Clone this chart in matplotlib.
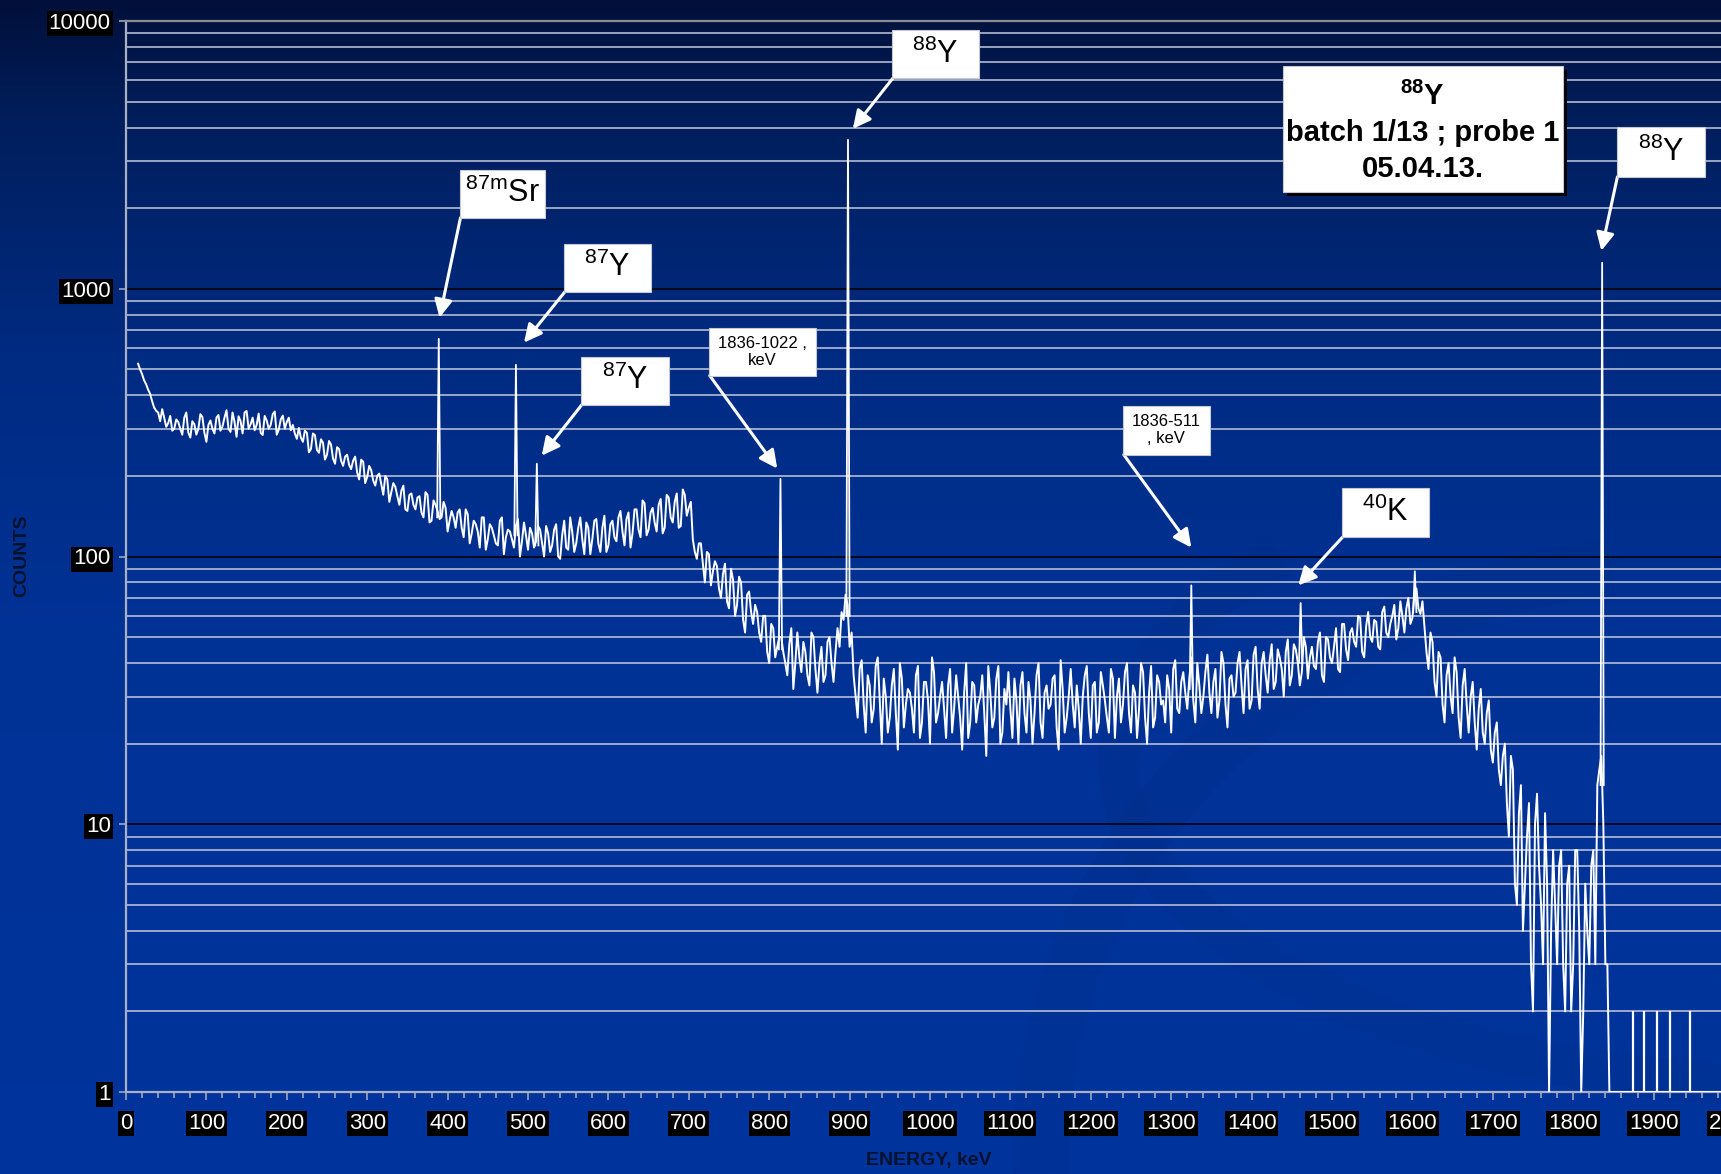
import numpy as np
import matplotlib
matplotlib.use("Agg")
import matplotlib.pyplot as plt
from matplotlib.patches import Rectangle, Arc
from matplotlib.ticker import LogLocator, MultipleLocator, NullFormatter
import matplotlib.patheffects as pe

plt.rcParams['font.family'] = ['Liberation Sans', 'DejaVu Sans']
plt.rcParams['mathtext.default'] = 'regular'

# Spectrum counts.
# counts_rows: one value every 5 keV starting at 15 keV
# counts_mid_rows: the channels in between (17.5 keV, 22.5 keV, ...)
counts_rows = [
    [525, 480, 440, 405, 360, 345, 355, 305, 335, 300, 318, 285, 345, 278, 312, 300, 332, 268, 322, 288],
    [338, 306, 352, 292, 318, 334, 288, 350, 312, 296, 342, 284, 322, 310, 348, 298, 336, 318, 296, 288],
    [302, 268, 290, 252, 284, 244, 266, 240, 262, 222, 252, 218, 240, 212, 236, 194, 226, 198, 210, 184],
    [204, 170, 194, 174, 182, 156, 184, 148, 172, 150, 168, 140, 170, 136, 156, 138, 160, 124, 148, 128],
    [150, 118, 144, 122, 132, 108, 140, 116, 128, 112, 136, 102, 126, 116, 130, 100, 134, 106, 122, 114],
    [126, 100, 122, 110, 132, 98, 136, 106, 124, 112, 140, 102, 128, 116, 138, 104, 142, 110, 136, 114],
    [148, 110, 146, 122, 150, 118, 158, 126, 152, 124, 164, 128, 166, 134, 172, 130, 170, 152, 116, 98],
    [112, 80, 102, 88, 92, 70, 94, 64, 82, 66, 80, 52, 74, 56, 62, 48, 60, 40, 54, 46],
    [50, 40, 47, 32, 52, 37, 44, 33, 50, 31, 46, 36, 50, 34, 54, 62, 72, 46, 36, 25],
    [41, 22, 33, 27, 42, 20, 30, 25, 38, 19, 35, 28, 31, 22, 39, 24, 34, 20, 37, 26],
    [34, 21, 38, 27, 30, 19, 40, 24, 33, 28, 36, 18, 31, 25, 39, 22, 28, 27, 35, 20],
    [37, 22, 29, 26, 40, 21, 33, 28, 36, 19, 32, 25, 38, 23, 27, 30, 39, 21, 34, 24],
    [33, 25, 38, 21, 35, 28, 40, 22, 31, 27, 37, 20, 39, 25, 34, 29, 36, 22, 41, 26],
    [37, 27, 42, 24, 33, 30, 43, 26, 38, 29, 40, 23, 36, 31, 44, 26, 41, 29, 46, 27],
    [44, 31, 47, 34, 42, 30, 49, 36, 45, 33, 50, 35, 46, 38, 52, 34, 49, 40, 54, 37],
    [56, 41, 54, 46, 59, 42, 62, 48, 57, 45, 65, 50, 60, 49, 68, 52, 70, 59, 76, 61],
    [55, 38, 48, 30, 42, 24, 40, 26, 37, 21, 38, 22, 34, 19, 32, 20, 29, 17, 24, 14],
    [20, 9, 16, 5, 14, 6, 12, 2, 13, 5, 11, 1, 8, 3, 8, 2, 7, 3, 8, 1],
    [6, 3, 8, 14, 18, 3, 1, 1, 1, 1, 1, 1, 1, 1, 1, 1, 1, 1, 1, 1],
    [1, 1, 1, 1, 1, 1, 1, 1, 1, 1, 1, 1, 1, 1],
]
counts_mid_rows = [
    [500, 455, 420, 380, 350, 320, 330, 315, 295, 325, 300, 330, 290, 320, 285, 340, 290, 310, 300, 330],
    [295, 330, 300, 345, 280, 320, 345, 300, 330, 310, 290, 335, 300, 340, 285, 325, 300, 330, 310, 275],
    [278, 295, 245, 288, 250, 274, 230, 270, 232, 256, 228, 236, 220, 228, 206, 230, 188, 218, 192, 200],
    [186, 200, 160, 188, 168, 176, 150, 170, 156, 166, 146, 174, 134, 162, 148, 140, 152, 136, 140, 146],
    [128, 150, 112, 136, 124, 140, 106, 132, 120, 110, 140, 118, 124, 108, 138, 114, 120, 128, 108, 130],
    [112, 130, 104, 126, 100, 120, 108, 140, 104, 128, 116, 134, 102, 136, 112, 128, 104, 132, 118, 140],
    [124, 138, 108, 150, 126, 162, 120, 146, 134, 156, 122, 170, 140, 160, 128, 178, 142, 160, 104, 112],
    [94, 104, 78, 96, 76, 86, 68, 90, 60, 84, 58, 72, 62, 66, 52, 60, 44, 56, 42, 50],
    [44, 36, 54, 40, 42, 48, 36, 52, 38, 40, 34, 48, 40, 44, 46, 58, 66, 52, 30, 38],
    [28, 36, 24, 39, 29, 35, 22, 33, 26, 40, 23, 32, 27, 36, 21, 34, 29, 42, 24, 30],
    [27, 33, 22, 36, 25, 31, 21, 34, 24, 30, 26, 39, 23, 35, 20, 32, 37, 21, 29, 33],
    [26, 34, 20, 36, 24, 31, 27, 35, 23, 41, 22, 30, 28, 33, 20, 36, 26, 33, 22, 37],
    [29, 22, 35, 30, 24, 37, 26, 33, 21, 40, 25, 31, 23, 36, 28, 24, 32, 38, 27, 34],
    [31, 35, 29, 40, 26, 37, 31, 34, 25, 44, 28, 35, 30, 40, 33, 38, 27, 43, 32, 40],
    [36, 41, 32, 45, 38, 44, 33, 47, 40, 37, 46, 42, 39, 48, 36, 50, 42, 46, 38, 56],
    [45, 52, 48, 60, 44, 55, 50, 58, 46, 62, 52, 56, 66, 54, 60, 64, 56, 72, 64, 68],
    [44, 52, 34, 44, 28, 36, 30, 42, 25, 33, 28, 30, 24, 27, 22, 26, 19, 22, 16, 18],
    [12, 18, 6, 11, 4, 9, 3, 10, 7, 3, 6, 4, 5, 7, 3, 6, 2, 8, 4, 2],
    [4, 7, 3, 16, 10, 3, 1, 1, 1, 1, 1, 1, 1, 1, 1, 1, 1, 1, 1, 1],
    [1, 1, 1, 1, 1, 1, 1, 1, 1, 1, 1, 1, 1, 1],
]
counts_a = np.concatenate([np.array(r, dtype=float) for r in counts_rows])
counts_b = np.concatenate([np.array(r, dtype=float) for r in counts_mid_rows])
energy_a = 15 + 5 * np.arange(len(counts_a))
energy_b = energy_a + 2.5
energy = np.concatenate([energy_a, energy_b])
counts = np.concatenate([counts_a, counts_b])
order = np.argsort(energy)
energy, counts = energy[order], counts[order]

# Sharp photopeaks (keV, top count, local background)
peak_energy = [389, 485, 511, 814, 898, 1325, 1461, 1603, 1836]
peak_top = [650, 520, 222, 195, 3600, 78, 67, 88, 1250]
peak_base = [140, 120, 110, 45, 60, 32, 40, 62, 14]

# single-count channels past the 1836 keV line
tail_energy = [1874, 1888, 1904, 1921, 1945]
tail_top = [2, 2, 2, 2, 2]

# Annotation labels: box (E0, E1, c0, c1), arrow tip (E, counts), font size
labels = ['$^{87m}$Sr', '$^{87}$Y', '$^{87}$Y', '$^{88}$Y',
          '1836-1022 ,\nkeV', '1836-511\n, keV', '$^{40}$K', '$^{88}$Y']
boxes = [(415, 521, 1841, 2781), (545, 653, 975, 1472), (566, 675, 369, 557),
         (953, 1061, 6125, 9256), (725, 858, 474, 715), (1240, 1348, 240, 366),
         (1512, 1621, 118, 181), (1854, 1964, 2618, 4021)]
tips = [(390, 780), (495, 629), (517, 238), (904, 3955), (810, 213),
        (1325, 108), (1458, 78), (1835, 1386)]
label_sizes = [22, 22, 22, 22, 12, 12, 22, 22]

title_lines = ['$^{88}$Y', 'batch 1/13 ; probe 1', '05.04.13.']
title_counts = [5248, 3822, 2804]
title_box = (1439, 1787, 2301, 6794)

xtick_vals = list(range(0, 2001, 100))
ytick_vals = [1, 10, 100, 1000, 10000]

W, H = 1721, 1174
fig = plt.figure(figsize=(W / 100, H / 100), dpi=100)

# background gradient of the slide
bg = fig.add_axes([0, 0, 1, 1], zorder=-1)
stops = [0.0, 0.1, 0.3, 0.55, 1.0]
cols = np.array([[0, 16, 58], [0, 30, 92], [0, 43, 130], [0, 50, 150], [0, 52, 156]]) / 255.0
t = np.linspace(0, 1, 400)
grad = np.stack([np.interp(t, stops, cols[:, k]) for k in range(3)], axis=1)[:, None, :]
bg.imshow(grad, aspect='auto', extent=[0, 1, 0, 1], origin='upper')
for (cx, cy, w, h, a1, a2, lw) in [(0.98, 0.02, 0.75, 1.0, 95, 190, 40),
                                    (1.05, 0.35, 0.8, 0.55, 150, 260, 30)]:
    bg.add_patch(Arc((cx, cy), w, h, theta1=a1, theta2=a2, lw=lw,
                     color='#00286e', alpha=0.1))
bg.set_xlim(0, 1)
bg.set_ylim(0, 1)
bg.axis('off')

ax = fig.add_axes([126 / W, (H - 1092) / H, 1608 / W, 1071 / H])
ax.set_facecolor('none')
ax.set_yscale('log')
ax.set_xlim(0, 2000)
ax.set_ylim(1, 10000)

ax.plot(energy, counts, color='white', lw=1.4, zorder=3)
for e, top, base in zip(peak_energy, peak_top, peak_base):
    ax.plot([e - 2, e, e + 2], [base, top, base], color='white', lw=1.3, zorder=3)
ax.vlines(tail_energy, 1, tail_top, color='white', lw=1.6, zorder=3)

ax.set_xticks(xtick_vals)
ax.set_xticklabels([str(v) for v in xtick_vals])
ax.xaxis.set_minor_locator(MultipleLocator(20))
ax.set_yticks(ytick_vals)
ax.set_yticklabels([str(v) for v in ytick_vals])
ax.yaxis.set_minor_locator(LogLocator(base=10, subs=np.arange(2, 10)))
ax.yaxis.set_minor_formatter(NullFormatter())

ax.grid(True, axis='y', which='minor', color='#c3c9dc', lw=1.1)
ax.grid(True, axis='y', which='major', color='black', lw=1.1)

spine_c = '#aab0c4'
for s in ['left', 'bottom']:
    ax.spines[s].set_color(spine_c)
    ax.spines[s].set_linewidth(1.6)
ax.spines['top'].set_color('#8c8c94')
ax.spines['top'].set_linewidth(1.6)
ax.spines['right'].set_visible(False)

ax.tick_params(axis='x', which='major', direction='out', length=6, width=1.1,
               color=spine_c, labelsize=16, labelcolor='white', pad=9)
ax.tick_params(axis='x', which='minor', direction='out', length=4, width=1.1, color=spine_c)
ax.tick_params(axis='y', which='major', direction='out', length=5, width=1.1,
               color=spine_c, labelsize=16, labelcolor='white', pad=6)
ax.tick_params(axis='y', which='minor', length=0)
for lbl in ax.get_xticklabels() + ax.get_yticklabels():
    lbl.set_bbox(dict(facecolor='black', edgecolor='none', pad=1.5))

# arrows and label boxes
for lab, (e0, e1, c0, c1), (te, tc), fs in zip(labels, boxes, tips, label_sizes):
    ax.annotate('', xy=(te, tc), xytext=(e0 + 1, c0),
                arrowprops=dict(arrowstyle='-|>,head_length=0.9,head_width=0.45',
                                color='white', lw=2.2, shrinkA=0, shrinkB=0,
                                mutation_scale=12), zorder=4)
    ax.add_patch(Rectangle((e0, c0), e1 - e0, c1 - c0, facecolor='white',
                           edgecolor='#c8c8d0', lw=0.8, zorder=5))
    ax.text((e0 + e1) / 2, np.sqrt(c0 * c1), lab, ha='center', va='center',
            fontsize=fs, color='black', zorder=6, linespacing=1.15)

e0, e1, c0, c1 = title_box
box = Rectangle((e0, c0), e1 - e0, c1 - c0, facecolor='white', edgecolor='#c8c8d0',
                lw=0.8, zorder=5)
box.set_path_effects([pe.withSimplePatchShadow(offset=(3, -3), shadow_rgbFace='black',
                                               alpha=1.0)])
ax.add_patch(box)
for line, c in zip(title_lines, title_counts):
    ax.text((e0 + e1) / 2, c, line, ha='center', va='center', fontsize=21,
            fontweight='bold', color='black', zorder=6)

fig.text(22 / W, 1 - 556 / H, 'COUNTS', rotation=90, ha='center', va='center',
         fontsize=14, fontweight='bold', color='#06122e')
fig.text(929 / W, 1 - 1160 / H, 'ENERGY, keV', ha='center', va='center',
         fontsize=14, fontweight='bold', color='#06122e')

fig.savefig('out.png', dpi=100)
